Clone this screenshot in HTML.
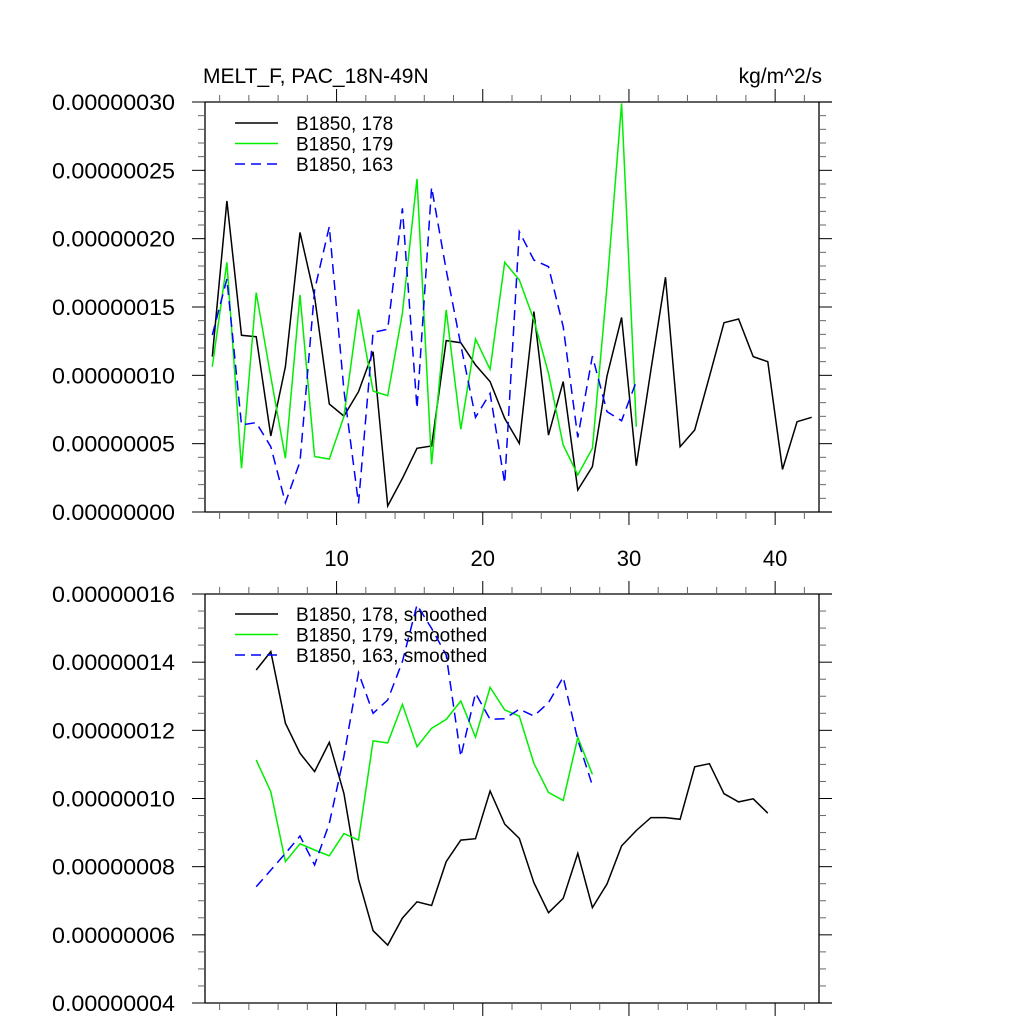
<!DOCTYPE html>
<html><head><meta charset="utf-8"><style>
html,body{margin:0;padding:0;background:#fff;}
svg{display:block;font-family:"Liberation Sans",sans-serif;}
</style></head><body>
<svg id="chart" width="1024" height="1024" viewBox="0 0 1024 1024" xmlns="http://www.w3.org/2000/svg">
<text x="203" y="83" font-size="21">MELT_F, PAC_18N-49N</text>
<text x="822" y="83" font-size="21" text-anchor="end">kg/m^2/s</text>
</svg>
<script>
// ---- data ----
var xTicks = [10, 20, 30, 40];
var topYTicks = [0, 0.5, 1.0, 1.5, 2.0, 2.5, 3.0];
var topYLabels = ["0.00000000","0.00000005","0.00000010","0.00000015","0.00000020","0.00000025","0.00000030"];
var botYTicks = [4, 6, 8, 10, 12, 14, 16];
var botYLabels = ["0.00000004","0.00000006","0.00000008","0.00000010","0.00000012","0.00000014","0.00000016"];
// top series (units 1e-7), x = index + 1.5
var s178 = [1.137,2.276,1.293,1.283,0.556,1.063,2.046,1.576,0.790,0.702,0.880,1.173,0.044,0.246,0.466,0.483,1.254,1.239,1.076,0.954,0.685,0.502,1.466,0.563,0.954,0.161,0.332,0.995,1.424,0.339,1.039,1.717,0.478,0.600,0.990,1.385,1.412,1.137,1.100,0.312,0.661,0.693];
var s179 = [1.063,1.827,0.320,1.605,0.990,0.393,1.588,0.405,0.388,0.698,1.483,0.885,0.851,1.454,2.437,0.349,1.478,0.605,1.266,1.044,1.827,1.698,1.405,1.015,0.490,0.271,0.466,1.650,2.990,0.624];
var s163 = [1.295,1.705,0.637,0.654,0.478,0.068,0.368,1.624,2.088,0.893,0.063,1.315,1.337,2.222,0.759,2.376,1.771,1.222,0.693,0.868,0.210,2.051,1.844,1.795,1.356,0.546,1.141,0.734,0.668,0.954];
// smoothed series (units 1e-8), x = index + 4.5
var m178 = [13.77,14.31,12.21,11.33,10.79,11.65,10.15,7.63,6.12,5.70,6.49,6.97,6.86,8.15,8.78,8.82,10.22,9.25,8.83,7.53,6.65,7.07,8.39,6.80,7.49,8.61,9.06,9.44,9.44,9.39,10.93,11.02,10.14,9.90,9.99,9.57];
var m179 = [11.13,10.20,8.15,8.67,8.49,8.32,8.97,8.78,11.69,11.63,12.76,11.52,12.06,12.32,12.86,11.80,13.26,12.60,12.42,11.03,10.18,9.94,11.79,10.71];
var m163 = [7.41,7.90,8.39,8.90,8.05,9.27,11.23,13.69,12.50,12.89,14.02,15.68,14.99,14.21,11.23,13.09,12.32,12.34,12.62,12.42,12.81,13.56,11.72,10.38];

var NS = "http://www.w3.org/2000/svg";
var svg = document.getElementById("chart");
function mk(tag, attrs, parent){var e=document.createElementNS(NS,tag);for(var k in attrs)e.setAttribute(k,attrs[k]);(parent||svg).appendChild(e);return e;}
var X0=205, X1=819, XR=832;
function xs(v){return X0+(v-1)/(43-1)*(X1-X0);}

function panel(name, top, bot, ymin, ymax, yticks, ylabels, minorStep, showX, series, legendNames, legendY){
  var g=mk("g",{});
  
  
  function ys(v){return bot-(v-ymin)/(ymax-ymin)*(bot-top);}
  mk("line",{x1:X0,y1:top,x2:XR,y2:top,stroke:"#000","stroke-width":1.3},g);
  mk("line",{x1:X0,y1:bot,x2:XR,y2:bot,stroke:"#000","stroke-width":1.3},g);
  mk("line",{x1:X0,y1:top,x2:X0,y2:bot,stroke:"#000","stroke-width":1.3},g);
  mk("line",{x1:X1,y1:top,x2:X1,y2:bot,stroke:"#000","stroke-width":1.3},g);
  for(var v=2; v<=42; v+=2){
    var maj = (v%10===0), x=xs(v), L=maj?13:7;
    mk("line",{x1:x,y1:bot,x2:x,y2:bot+L,stroke:maj?"#000":"#666","stroke-width":1},g);
    mk("line",{x1:x,y1:top,x2:x,y2:top-L,stroke:maj?"#000":"#666","stroke-width":1},g);
  }
  if(showX){
    xTicks.forEach(function(t){
      var tx=mk("text",{x:xs(t),y:bot+54,"font-size":22,"text-anchor":"middle"},g);
      tx.textContent=t;
      
      
    });
  }
  for(var v=ymin; v<=ymax+1e-9; v+=minorStep){
    var y=ys(v), maj=yticks.some(function(t){return Math.abs(t-v)<1e-6;}), L=maj?13:7;
    mk("line",{x1:X0,y1:y,x2:X0-L,y2:y,stroke:maj?"#000":"#666","stroke-width":1},g);
    mk("line",{x1:X1,y1:y,x2:X1+L,y2:y,stroke:maj?"#000":"#666","stroke-width":1},g);
  }
  yticks.forEach(function(t,i){
    var tx=mk("text",{x:175,y:ys(t)+8,"font-size":22,"text-anchor":"end",textLength:123,lengthAdjust:"spacingAndGlyphs"},g);
    tx.textContent=ylabels[i];
    
    
  });
  series.forEach(function(s,i){
    var pts=s.data.map(function(v,j){return xs(j+s.x0).toFixed(1)+","+ys(v).toFixed(1);}).join(" ");
    var p=mk("polyline",{points:pts,fill:"none",stroke:s.color,"stroke-width":1.5,"stroke-dasharray":s.dash||"none"},g);
    
    
    var ly=legendY+i*20.5;
    var ll=mk("line",{x1:235,y1:ly,x2:278,y2:ly,stroke:s.color,"stroke-width":1.5,"stroke-dasharray":s.dash||"none"},g);
    
    
    var lt=mk("text",{x:296,y:ly+7,"font-size":19},g);
    lt.textContent=legendNames[i];
    
    
  });
}
panel("top-panel",102,512,0,3.0,topYTicks,topYLabels,0.1,true,
  [{data:s178,x0:1.5,color:"#000",name:"series-178"},
   {data:s179,x0:1.5,color:"#00ee00",name:"series-179"},
   {data:s163,x0:1.5,color:"#0000ff",dash:"10,6",name:"series-163"}],
  ["B1850, 178","B1850, 179","B1850, 163"],123);
panel("bottom-panel",594,1003,4,16,botYTicks,botYLabels,0.5,false,
  [{data:m178,x0:4.5,color:"#000",name:"series-178-smoothed"},
   {data:m179,x0:4.5,color:"#00ee00",name:"series-179-smoothed"},
   {data:m163,x0:4.5,color:"#0000ff",dash:"10,6",name:"series-163-smoothed"}],
  ["B1850, 178, smoothed","B1850, 179, smoothed","B1850, 163, smoothed"],614);
</script>
</body></html>
